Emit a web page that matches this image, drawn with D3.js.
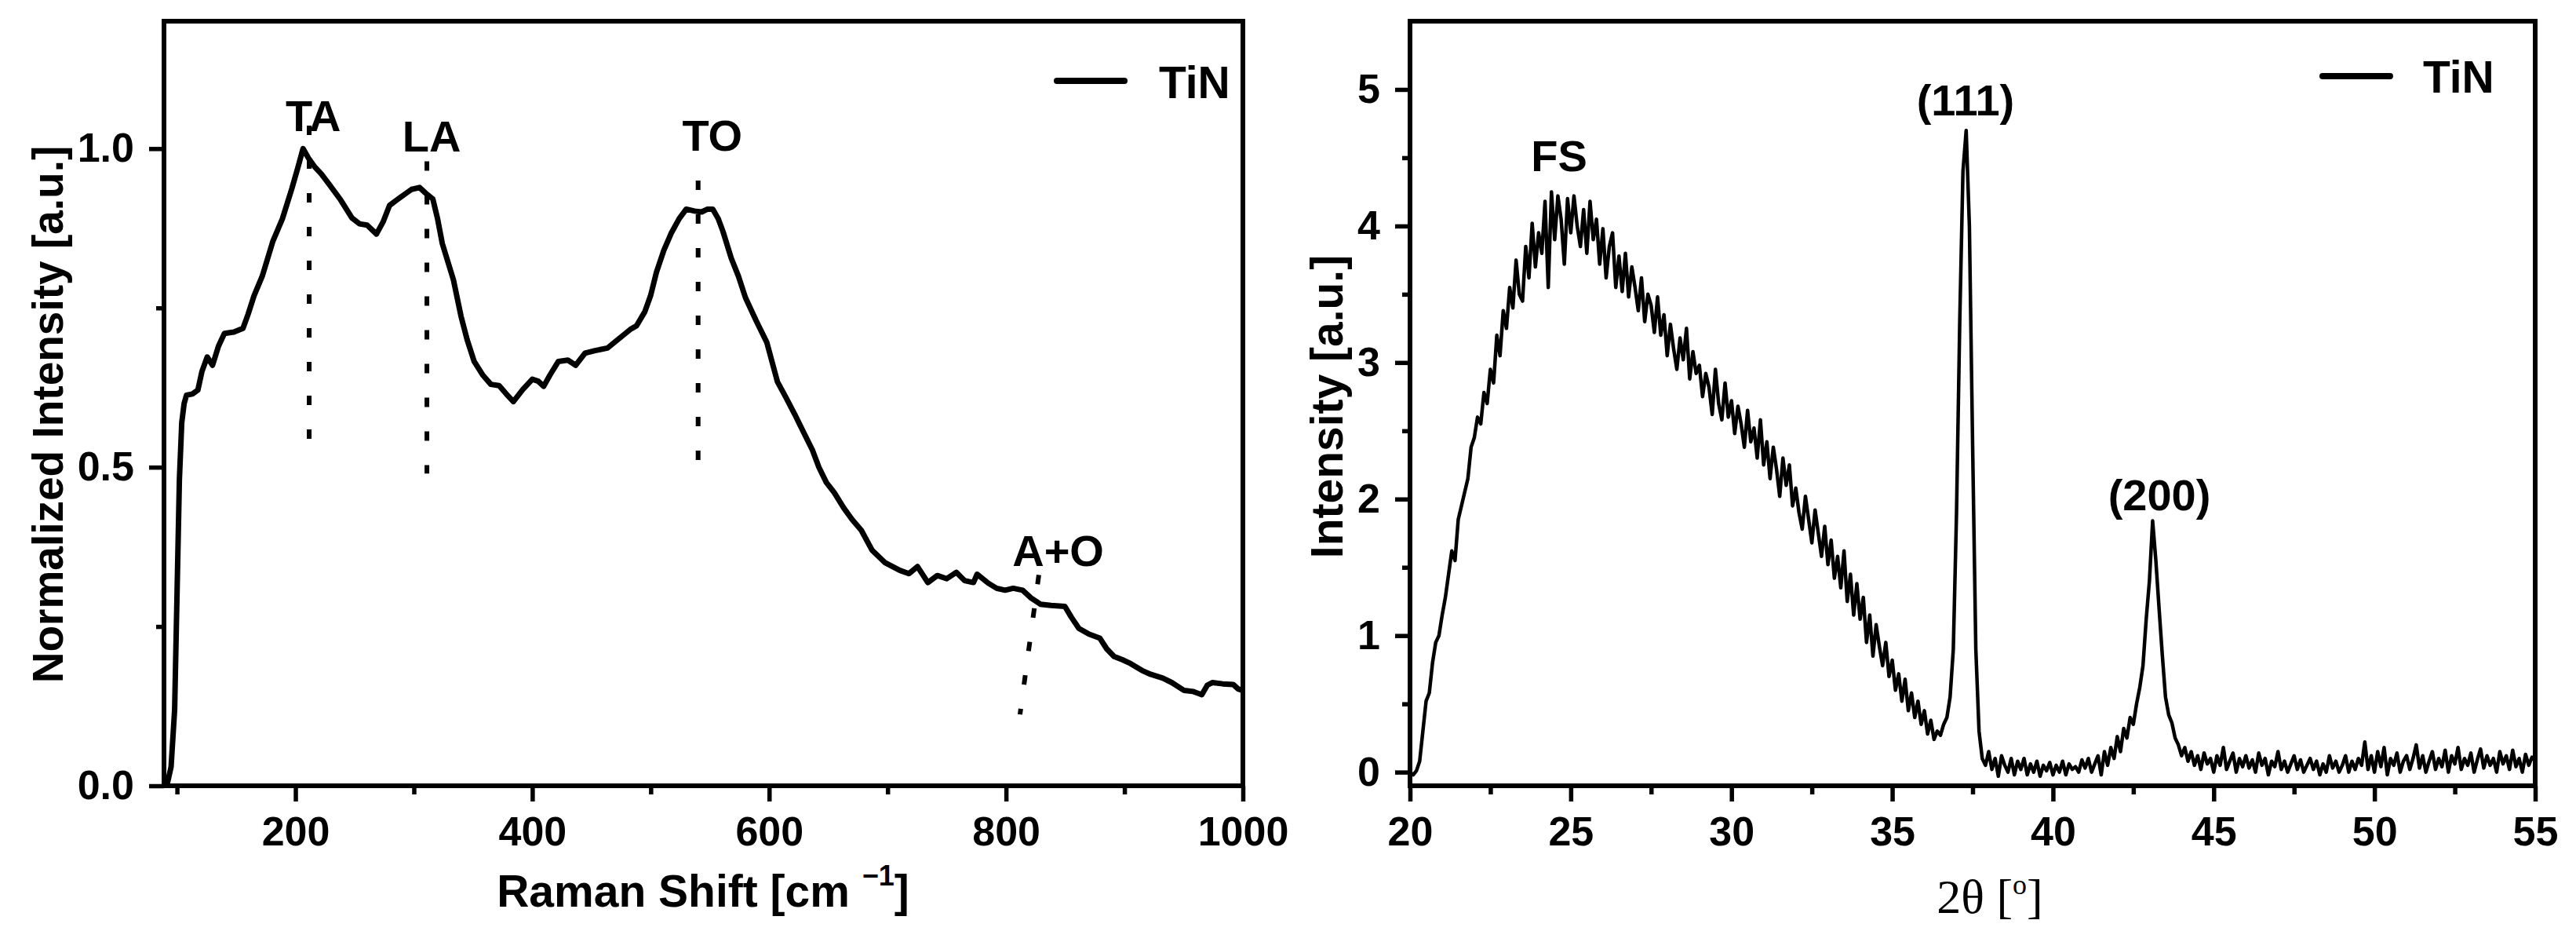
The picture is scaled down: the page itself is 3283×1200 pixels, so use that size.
<!DOCTYPE html>
<html>
<head>
<meta charset="utf-8">
<script src="https://cdn.jsdelivr.net/npm/d3@7"></script>
<style>
  body { margin: 0; background: #fff; }
  svg { display: block; }
</style>
</head>
<body>
<div id="chart"></div>
<script>
// ---- Raman spectrum (left panel) ----
const ramanShift = [89, 92, 95, 98, 100, 102, 104, 106, 108, 113, 117.6, 121, 125.5, 130, 135, 140, 148, 155.7,
  160, 165, 172, 181, 189, 197, 202, 206.4, 211, 216, 222, 228.5, 238, 247.8, 254, 260.5, 268.4, 274,
  279.5, 286, 292, 298, 304.8, 310, 316, 320, 324, 333.4, 339.8, 345, 350.9, 358, 365, 372, 378, 384,
  392, 400, 405, 409.6, 415, 422, 430, 436.6, 444.5, 453, 463.5, 472, 482.6, 488, 495, 500, 504.8, 511,
  517.5, 524, 530, 537, 543, 548, 552.4, 557, 561, 568, 574, 580, 589, 598, 607, 614, 621.6, 629, 636.5,
  642, 648.3, 655, 663, 670, 677.8, 686.8, 698, 710.4, 718, 725.3, 734, 742, 750, 758, 765, 772.5, 775.6,
  785, 792, 799.3, 806, 814, 821, 829, 838, 849.7, 855, 861.5, 870, 879.3, 885, 891.2, 898, 905, 914.8,
  922, 932.4, 940, 950.4, 958, 965.3, 970, 974.2, 983, 991.8, 996, 1000];
const ramanIntensity = [0.0, 0.005, 0.03, 0.12, 0.3, 0.48, 0.57, 0.6, 0.613, 0.615, 0.621, 0.65, 0.673, 0.66, 0.69, 0.71, 0.712, 0.718,
  0.74, 0.769, 0.80, 0.855, 0.89, 0.9375, 0.97, 1.0, 0.985, 0.972, 0.96, 0.944, 0.92, 0.891, 0.882, 0.88, 0.866, 0.885,
  0.911, 0.92, 0.928, 0.936, 0.939, 0.93, 0.921, 0.89, 0.851, 0.794, 0.737, 0.70, 0.666, 0.645, 0.63, 0.628, 0.615, 0.603,
  0.622, 0.638, 0.635, 0.627, 0.645, 0.666, 0.668, 0.66, 0.679, 0.683, 0.687, 0.70, 0.716, 0.722, 0.744, 0.77, 0.806, 0.84,
  0.868, 0.89, 0.905, 0.902, 0.9006, 0.905, 0.905, 0.89, 0.87, 0.828, 0.80, 0.766, 0.73, 0.696, 0.634, 0.61, 0.583, 0.555, 0.527,
  0.50, 0.476, 0.46, 0.436, 0.418, 0.401, 0.37, 0.35, 0.338, 0.333, 0.344, 0.319, 0.33, 0.325, 0.335, 0.322, 0.319, 0.332,
  0.318, 0.31, 0.307, 0.31, 0.307, 0.295, 0.285, 0.283, 0.2816, 0.265, 0.247, 0.238, 0.2316, 0.215, 0.203, 0.198, 0.192, 0.181,
  0.175, 0.169, 0.162, 0.1496, 0.148, 0.143, 0.158, 0.162, 0.16, 0.159, 0.152, 0.1496];

const ramanXTicks = [200, 400, 600, 800, 1000];
const ramanXMinor = [100, 300, 500, 700, 900];
const ramanYTicks = [0, 0.5, 1.0];
const ramanYMinor = [0.25, 0.75];

// mode labels and their dotted guide lines (data units)
const ramanLabels = ["TA", "LA", "TO", "A+O"];
const ramanLabelX = [215, 315, 552, 844];
const ramanLabelY = [1.027, 0.995, 0.997, 0.345];
const ramanGuideX1 = [211.6, 311, 540, 827.7];
const ramanGuideY1 = [1.036, 0.98, 0.95, 0.331];
const ramanGuideX2 = [211.6, 311, 540, 811.8];
const ramanGuideY2 = [0.54, 0.49, 0.51, 0.112];

// ---- XRD pattern (right panel), sampled every 0.1 deg from 20 deg ----
const xrdStart = 20;
const xrdStep = 0.1;
const xrdIntensity = [
  0.00, -0.02, 0.01, 0.08, 0.30, 0.52, 0.58, 0.80, 0.95, 1.00,
  1.15, 1.28, 1.45, 1.62, 1.55, 1.85, 1.95, 2.05, 2.15, 2.38,
  2.45, 2.60, 2.55, 2.78, 2.70, 2.95, 2.85, 3.20, 3.05, 3.38,
  3.25, 3.55, 3.40, 3.75, 3.50, 3.45, 3.85, 3.62, 4.02, 3.70,
  3.95, 3.80, 4.18, 3.55, 4.25, 3.90, 4.22, 4.05, 3.72, 4.20,
  3.95, 4.22, 4.00, 3.85, 4.12, 3.80, 4.18, 3.90, 4.05, 3.72,
  3.98, 3.62, 3.85, 3.95, 3.55, 3.78, 3.52, 3.80, 3.48, 3.70,
  3.55, 3.38, 3.62, 3.30, 3.50, 3.42, 3.22, 3.48, 3.20, 3.35,
  3.05, 3.28, 3.10, 2.95, 3.18, 3.02, 3.25, 2.88, 3.08, 2.92,
  2.98, 2.75, 2.92, 2.82, 2.62, 2.95, 2.70, 2.58, 2.85, 2.60,
  2.72, 2.48, 2.68, 2.55, 2.38, 2.65, 2.42, 2.52, 2.30, 2.58,
  2.25, 2.42, 2.15, 2.38, 2.22, 2.02, 2.30, 2.10, 2.25, 1.95,
  2.08, 1.90, 1.78, 2.02, 1.85, 1.68, 1.92, 1.75, 1.58, 1.80,
  1.52, 1.70, 1.42, 1.58, 1.35, 1.62, 1.25, 1.45, 1.15, 1.38,
  1.12, 1.28, 0.95, 1.15, 0.85, 1.08, 0.92, 0.78, 0.95, 0.70,
  0.82, 0.60, 0.72, 0.52, 0.68, 0.45, 0.58, 0.40, 0.52, 0.35,
  0.45, 0.28, 0.38, 0.24, 0.30, 0.27, 0.35, 0.40, 0.55, 0.90,
  1.90, 3.30, 4.40, 4.70, 4.00, 2.40, 0.90, 0.30, 0.10, 0.05,
  0.15, 0.02, 0.10, -0.03, 0.12, 0.05, 0.00, 0.10, -0.02, 0.08,
  0.02, 0.10, -0.02, 0.06, 0.00, 0.08, -0.03, 0.05, 0.01, 0.07,
  -0.02, 0.05, 0.00, 0.08, -0.02, 0.06, 0.02, 0.04, 0.00, 0.09,
  0.03, 0.10, 0.00, 0.06, 0.12, -0.02, 0.15, 0.05, 0.18, 0.10,
  0.26, 0.15, 0.32, 0.25, 0.40, 0.35, 0.50, 0.62, 0.78, 1.12,
  1.40, 1.84, 1.55, 1.20, 0.86, 0.55, 0.42, 0.36, 0.25, 0.20,
  0.12, 0.18, 0.08, 0.15, 0.05, 0.12, 0.02, 0.14, 0.06, 0.10,
  0.00, 0.12, 0.05, 0.18, 0.02, 0.08, 0.14, 0.00, 0.10, 0.04,
  0.12, 0.03, 0.09, 0.00, 0.14, 0.05, 0.10, -0.02, 0.08, 0.04,
  0.15, 0.02, 0.08, 0.00, 0.06, 0.12, 0.02, 0.09, 0.00, 0.05,
  0.10, 0.02, 0.08, -0.02, 0.06, 0.00, 0.12, 0.03, 0.08, 0.00,
  0.05, 0.12, 0.00, 0.08, 0.02, 0.10, 0.05, 0.22, 0.02, 0.12,
  0.00, 0.15, 0.04, 0.18, -0.02, 0.10, 0.05, 0.14, 0.00, 0.08,
  0.12, 0.02, 0.10, 0.20, 0.03, 0.12, 0.00, 0.08, 0.15, 0.02,
  0.10, 0.04, 0.16, 0.00, 0.12, 0.06, 0.18, 0.02, 0.10, 0.05,
  0.14, 0.00, 0.09, 0.17, 0.03, 0.12, 0.05, 0.10, 0.00, 0.15,
  0.06, 0.12, 0.02, 0.16, 0.04, 0.10, 0.00, 0.13, 0.05, 0.11,
  0.08
];

const xrdXTicks = [20, 25, 30, 35, 40, 45, 50, 55];
const xrdXMinor = [22.5, 27.5, 32.5, 37.5, 42.5, 47.5, 52.5];
const xrdYTicks = [0, 1, 2, 3, 4, 5];
const xrdYMinor = [0.5, 1.5, 2.5, 3.5, 4.5];

const xrdLabels = ["FS", "(111)", "(200)"];
const xrdLabelX = [24.64, 37.28, 43.31];
const xrdLabelY = [4.40, 4.81, 1.92];

// ---- layout ----
const W = 3283, H = 1200;
const sansFont = "'Liberation Sans', Arial, Helvetica, sans-serif";
const serifFont = "'Liberation Serif', 'Times New Roman', serif";

const svg = d3.select("#chart").append("svg")
  .attr("width", W)
  .attr("height", H)
  .style("background", "#fff");

const plotTop = 27, plotBottom = 1001;

function drawFrame(g, x, y, xTicks, xMinor, yTicks, yMinor, yFormat) {
  const [x0, x1] = x.range();
  const [y0, y1] = y.range();

  const xAxis = g.append("g")
    .attr("transform", `translate(0,${y0})`)
    .call(d3.axisBottom(x).tickValues(xTicks).tickSize(20).tickPadding(19).tickFormat(d3.format("d")));
  const xMinorAxis = g.append("g")
    .attr("transform", `translate(0,${y0})`)
    .call(d3.axisBottom(x).tickValues(xMinor).tickSize(11).tickFormat(""));
  const yAxis = g.append("g")
    .attr("transform", `translate(${x0},0)`)
    .call(d3.axisLeft(y).tickValues(yTicks).tickSize(19).tickPadding(19).tickFormat(yFormat));
  const yMinorAxis = g.append("g")
    .attr("transform", `translate(${x0},0)`)
    .call(d3.axisLeft(y).tickValues(yMinor).tickSize(10).tickFormat(""));

  [xAxis, xMinorAxis, yAxis, yMinorAxis].forEach(a => {
    a.select(".domain").remove();
    a.selectAll(".tick line").attr("stroke", "#000").attr("stroke-width", 5.5);
    a.selectAll(".tick text")
      .attr("fill", "#000")
      .style("font-family", sansFont)
      .style("font-weight", "bold")
      .style("font-size", "52px");
  });

  // box
  g.append("rect")
    .attr("x", x0)
    .attr("y", y1)
    .attr("width", x1 - x0)
    .attr("height", y0 - y1)
    .attr("fill", "none")
    .attr("stroke", "#000")
    .attr("stroke-width", 6);
}

function drawLegend(g, lx1, lx2, ly, tx, ty) {
  g.append("line")
    .attr("x1", lx1).attr("x2", lx2)
    .attr("y1", ly).attr("y2", ly)
    .attr("stroke", "#000")
    .attr("stroke-width", 8)
    .attr("stroke-linecap", "round");
  g.append("text")
    .attr("x", tx)
    .attr("y", ty)
    .style("font-family", sansFont)
    .style("font-weight", "bold")
    .style("font-size", "57px")
    .text("TiN");
}

// ---------- left: Raman ----------
const ramanX = d3.scaleLinear().domain([89, 1000]).range([209, 1584]);
const ramanY = d3.scaleLinear().domain([0, 1.2]).range([plotBottom, plotTop]);
const left = svg.append("g");

left.append("clipPath").attr("id", "clipL")
  .append("rect").attr("x", 209).attr("y", plotTop).attr("width", 1375).attr("height", plotBottom - plotTop);

// dotted guides
left.selectAll(".guide")
  .data(ramanLabels)
  .enter()
  .append("line")
  .attr("class", "guide")
  .attr("x1", (d, i) => ramanX(ramanGuideX1[i]))
  .attr("y1", (d, i) => ramanY(ramanGuideY1[i]))
  .attr("x2", (d, i) => ramanX(ramanGuideX2[i]))
  .attr("y2", (d, i) => ramanY(ramanGuideY2[i]))
  .attr("stroke", "#000")
  .attr("stroke-width", 6)
  .attr("stroke-dasharray", "12 31");

const ramanLine = d3.line()
  .x((d, i) => ramanX(ramanShift[i]))
  .y(d => ramanY(d));

left.append("path")
  .datum(ramanIntensity)
  .attr("d", ramanLine)
  .attr("clip-path", "url(#clipL)")
  .attr("fill", "none")
  .attr("stroke", "#000")
  .attr("stroke-width", 7)
  .attr("stroke-linejoin", "round");

drawFrame(left, ramanX, ramanY, ramanXTicks, ramanXMinor, ramanYTicks, ramanYMinor, d3.format(".1f"));

left.selectAll(".mode")
  .data(ramanLabels)
  .enter()
  .append("text")
  .attr("class", "mode")
  .attr("x", (d, i) => ramanX(ramanLabelX[i]))
  .attr("y", (d, i) => ramanY(ramanLabelY[i]))
  .attr("text-anchor", "middle")
  .style("font-family", sansFont)
  .style("font-weight", "bold")
  .style("font-size", "56px")
  .text(d => d);

drawLegend(left, 1347, 1433, 103, 1477, 125);

// axis titles
const ramanTitle = left.append("text")
  .attr("x", 896)
  .attr("y", 1155)
  .attr("text-anchor", "middle")
  .style("font-family", sansFont)
  .style("font-weight", "bold")
  .style("font-size", "57px");
ramanTitle.append("tspan").text("Raman Shift [cm ");
ramanTitle.append("tspan").attr("dy", -27).style("font-size", "36px").text("\u22121");
ramanTitle.append("tspan").attr("dy", 27).text("]");

left.append("text")
  .attr("transform", "translate(80,528) rotate(-90)")
  .attr("text-anchor", "middle")
  .style("font-family", sansFont)
  .style("font-weight", "bold")
  .style("font-size", "55px")
  .text("Normalized Intensity [a.u.]");

// ---------- right: XRD ----------
const xrdX = d3.scaleLinear().domain([20, 55]).range([1797, 3231]);
const xrdY = d3.scaleLinear().domain([-0.1, 5.5]).range([plotBottom, plotTop]);
const right = svg.append("g");

right.append("clipPath").attr("id", "clipR")
  .append("rect").attr("x", 1797).attr("y", plotTop).attr("width", 3231 - 1797).attr("height", plotBottom - plotTop);

const xrdLine = d3.line()
  .x((d, i) => xrdX(xrdStart + i * xrdStep))
  .y(d => xrdY(d));

right.append("path")
  .datum(xrdIntensity)
  .attr("d", xrdLine)
  .attr("clip-path", "url(#clipR)")
  .attr("fill", "none")
  .attr("stroke", "#000")
  .attr("stroke-width", 4.5)
  .attr("stroke-linejoin", "round");

drawFrame(right, xrdX, xrdY, xrdXTicks, xrdXMinor, xrdYTicks, xrdYMinor, d3.format("d"));

right.selectAll(".peak")
  .data(xrdLabels)
  .enter()
  .append("text")
  .attr("class", "peak")
  .attr("x", (d, i) => xrdX(xrdLabelX[i]))
  .attr("y", (d, i) => xrdY(xrdLabelY[i]))
  .attr("text-anchor", "middle")
  .style("font-family", sansFont)
  .style("font-weight", "bold")
  .style("font-size", "56px")
  .text(d => d);

drawLegend(right, 2960, 3046, 97, 3088, 118);

const xrdTitle = right.append("text")
  .attr("x", 2536)
  .attr("y", 1163)
  .attr("text-anchor", "middle")
  .style("font-family", serifFont)
  .style("font-size", "62px");
xrdTitle.append("tspan").text("2\u03B8 [");
xrdTitle.append("tspan").attr("dy", -24).style("font-size", "36px").text("o");
xrdTitle.append("tspan").attr("dy", 24).text("]");

right.append("text")
  .attr("transform", "translate(1711,518) rotate(-90)")
  .attr("text-anchor", "middle")
  .style("font-family", sansFont)
  .style("font-weight", "bold")
  .style("font-size", "57px")
  .text("Intensity [a.u.]");
</script>
</body>
</html>
